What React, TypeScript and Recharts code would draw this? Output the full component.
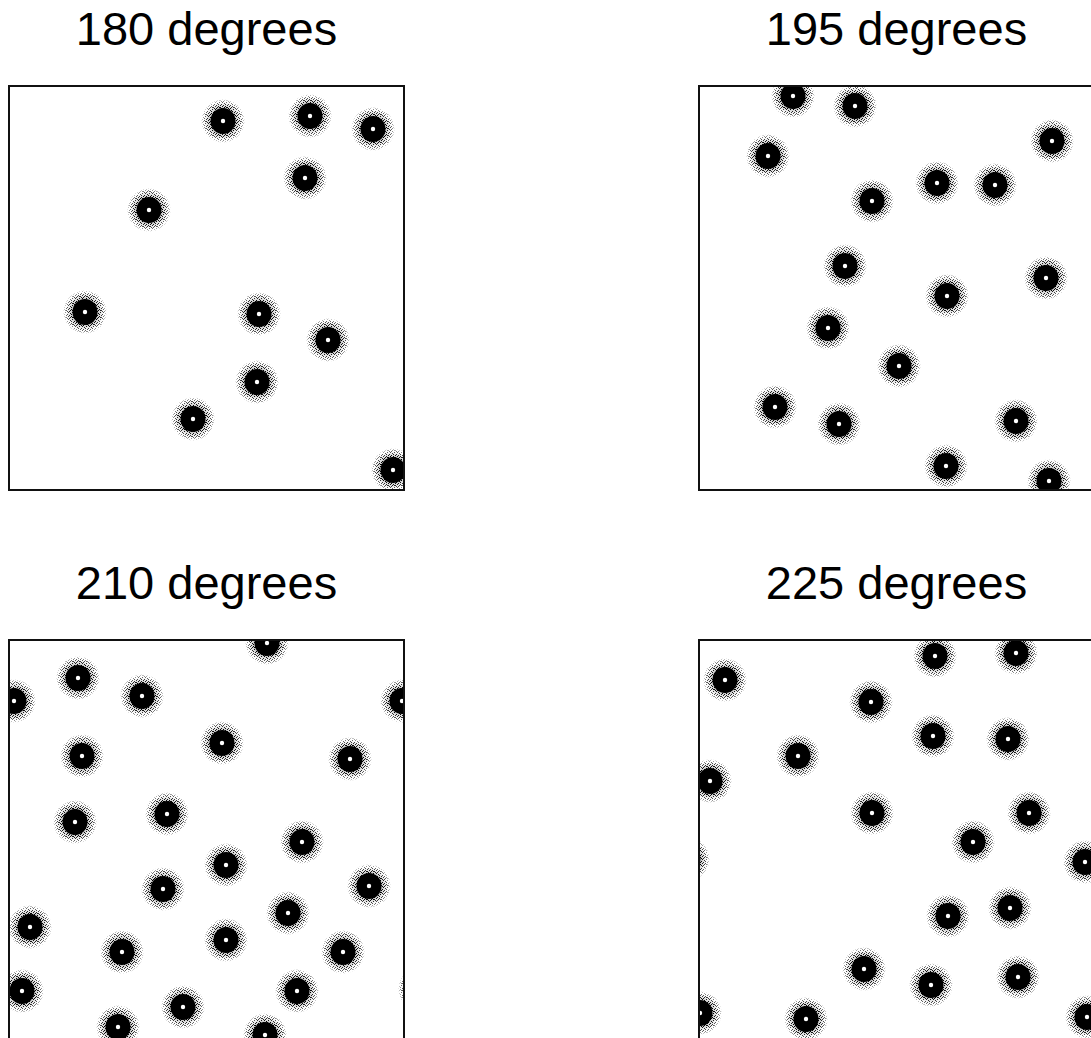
import React from "react";
import { ScatterChart, Scatter, XAxis, YAxis } from "recharts";

interface Spot {
  x: number;
  y: number;
}

// spot centres, measured inside each square frame (x to the right, y downward)
const spots180: Spot[] = [
  { x: 215, y: 36 },
  { x: 302, y: 31 },
  { x: 365, y: 44 },
  { x: 297, y: 93 },
  { x: 141, y: 125 },
  { x: 77, y: 227 },
  { x: 251, y: 229 },
  { x: 320, y: 255 },
  { x: 249, y: 297 },
  { x: 185, y: 334 },
  { x: 385, y: 385 },
];

const spots195: Spot[] = [
  { x: 95, y: 11 },
  { x: 157, y: 21 },
  { x: 70, y: 71 },
  { x: 354, y: 56 },
  { x: 239, y: 98 },
  { x: 297, y: 100 },
  { x: 174, y: 116 },
  { x: 147, y: 181 },
  { x: 348, y: 193 },
  { x: 249, y: 211 },
  { x: 130, y: 243 },
  { x: 201, y: 281 },
  { x: 77, y: 322 },
  { x: 141, y: 339 },
  { x: 318, y: 336 },
  { x: 248, y: 381 },
  { x: 351, y: 396 },
];

const spots210: Spot[] = [
  { x: 259, y: 4 },
  { x: 70, y: 39 },
  { x: 134, y: 57 },
  { x: 6, y: 62 },
  { x: 394, y: 62 },
  { x: 74, y: 117 },
  { x: 214, y: 104 },
  { x: 342, y: 120 },
  { x: 67, y: 183 },
  { x: 159, y: 175 },
  { x: 294, y: 203 },
  { x: 218, y: 226 },
  { x: 155, y: 250 },
  { x: 361, y: 247 },
  { x: 280, y: 274 },
  { x: 22, y: 288 },
  { x: 114, y: 313 },
  { x: 218, y: 301 },
  { x: 335, y: 313 },
  { x: 14, y: 352 },
  { x: 289, y: 352 },
  { x: 175, y: 368 },
  { x: 110, y: 388 },
  { x: 257, y: 396 },
  { x: 412, y: 350 },
];

const spots225: Spot[] = [
  { x: 237, y: 17 },
  { x: 318, y: 14 },
  { x: 27, y: 41 },
  { x: 173, y: 63 },
  { x: 235, y: 97 },
  { x: 310, y: 100 },
  { x: 100, y: 117 },
  { x: 12, y: 142 },
  { x: 174, y: 174 },
  { x: 331, y: 174 },
  { x: 275, y: 203 },
  { x: 387, y: 223 },
  { x: -10, y: 220 },
  { x: 250, y: 277 },
  { x: 312, y: 269 },
  { x: 166, y: 330 },
  { x: 233, y: 346 },
  { x: 320, y: 338 },
  { x: 2, y: 374 },
  { x: 108, y: 380 },
  { x: 389, y: 378 },
];

const titles = ["180 degrees", "195 degrees", "210 degrees", "225 degrees"];
const panelData = [spots180, spots195, spots210, spots225];

const BOX_W = 397;
const BOX_H = 406;

const panelPos = [
  { left: 8, top: 85 },
  { left: 698, top: 85 },
  { left: 8, top: 639 },
  { left: 698, top: 639 },
];

// grain cells for the halo tile (7x7 tile, 1px dots)
const grain = [
  [0, 0], [4, 0], [2, 1], [6, 1], [5, 2], [1, 3], [4, 3],
  [6, 4], [3, 5], [0, 5], [5, 6], [2, 6], [1, 1], [3, 2],
];

// grainy grey halo + black core + tiny white centre, like the scanned spots
const Blob = (props: any) => {
  const { cx, cy } = props;
  if (cx == null || cy == null) return null;
  return (
    <g>
      <defs>
        <pattern id="stip" width={7} height={7} patternUnits="userSpaceOnUse">
          {grain.map(([gx, gy], i) => (
            <rect key={i} x={gx} y={gy} width={1} height={1} fill="#000" />
          ))}
        </pattern>
        <radialGradient id="fadeGrad">
          <stop offset="0%" stopColor="#fff" />
          <stop offset="62%" stopColor="#fff" />
          <stop offset="85%" stopColor="#999" />
          <stop offset="100%" stopColor="#000" />
        </radialGradient>
        <radialGradient id="innerGrey">
          <stop offset="0%" stopColor="#777" stopOpacity={0.7} />
          <stop offset="70%" stopColor="#888" stopOpacity={0.45} />
          <stop offset="100%" stopColor="#aaa" stopOpacity={0} />
        </radialGradient>
        <mask id="fade" maskContentUnits="objectBoundingBox">
          <rect x={0} y={0} width={1} height={1} fill="url(#fadeGrad)" />
        </mask>
      </defs>
      <circle cx={cx} cy={cy} r={19} fill="url(#innerGrey)" />
      <circle cx={cx} cy={cy} r={22} fill="url(#stip)" mask="url(#fade)" />
      <ellipse cx={cx} cy={cy} rx={12.5} ry={13} fill="#000" />
      <circle cx={cx} cy={cy} r={2.2} fill="#fff" />
    </g>
  );
};

function Panel({ title, data, left, top }: { title: string; data: Spot[]; left: number; top: number }) {
  return (
    <>
      <div
        style={{
          position: "absolute",
          left: left,
          top: top - 86,
          width: BOX_W,
          textAlign: "center",
          fontFamily: "'Liberation Sans', Arial, sans-serif",
          fontSize: 47,
          lineHeight: "60px",
          color: "#000",
        }}
      >
        {title}
      </div>
      <div style={{ position: "absolute", left, top, width: BOX_W, height: BOX_H }}>
        <ScatterChart width={BOX_W} height={BOX_H} margin={{ top: 0, right: 0, bottom: 0, left: 0 }}>
          <XAxis type="number" dataKey="x" domain={[0, BOX_W]} hide allowDataOverflow />
          <YAxis type="number" dataKey="y" domain={[0, BOX_H]} reversed hide allowDataOverflow />
          <Scatter data={data} shape={<Blob />} isAnimationActive={false} />
        </ScatterChart>
        <div
          style={{
            position: "absolute",
            left: 0,
            top: 0,
            width: BOX_W,
            height: BOX_H,
            boxSizing: "border-box",
            border: "2px solid #111",
            pointerEvents: "none",
          }}
        />
      </div>
    </>
  );
}

export default function App() {
  return (
    <div
      style={{
        position: "fixed",
        left: 0,
        top: 0,
        width: 1091,
        height: 1038,
        overflow: "hidden",
        background: "#fff",
      }}
    >
      {panelData.map((d, i) => (
        <Panel key={i} title={titles[i]} data={d} left={panelPos[i].left} top={panelPos[i].top} />
      ))}
    </div>
  );
}
